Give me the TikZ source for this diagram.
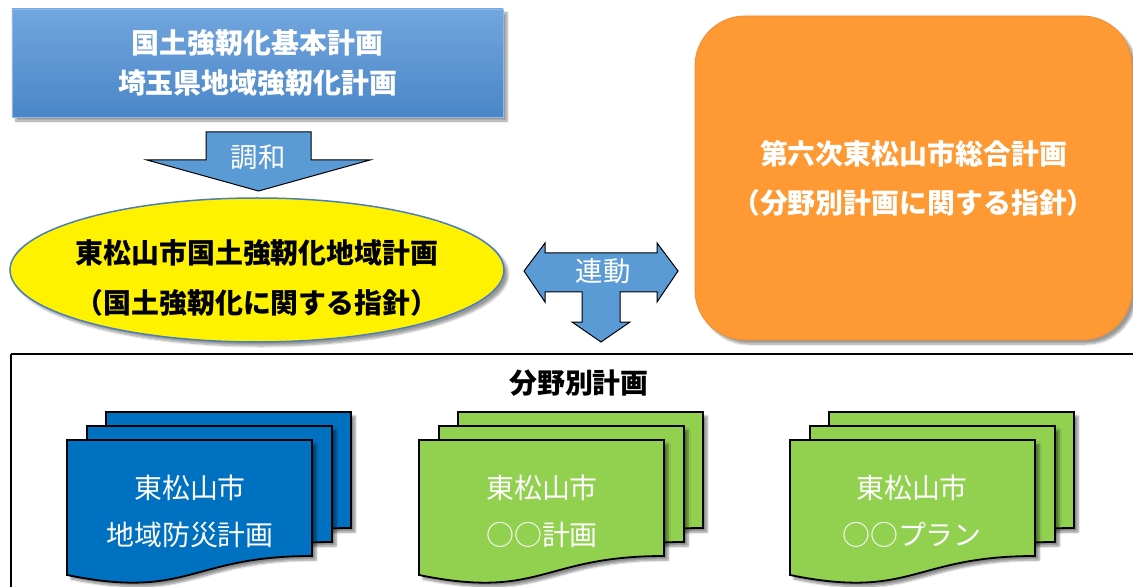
\documentclass[tikz,border=0pt]{standalone}
\usepackage{fontspec}
\setmainfont{Noto Sans CJK JP}
\usetikzlibrary{shadows,shadows.blur,shapes.geometric}
\definecolor{boxtop}{RGB}{114,166,222}
\definecolor{boxbot}{RGB}{74,134,200}
\definecolor{arrowblue}{RGB}{91,155,213}
\definecolor{ellborder}{RGB}{74,126,187}
\definecolor{orangefill}{RGB}{255,153,51}
\definecolor{orangeline}{RGB}{240,140,50}
\definecolor{docblue}{RGB}{0,112,192}
\definecolor{docgreen}{RGB}{146,208,80}
\newcommand\DocSheet[3]{%
  \begin{scope}[shift={(#1,#2)}]
    \path[draw=black, line width=1.8bp, fill=#3, blur shadow={shadow xshift=4bp, shadow yshift=-4bp, shadow blur steps=6, shadow opacity=45}]
      (0,0) -- (245,0) -- (245,116)
      .. controls (122.5,116) and (122.5,160) .. (0,135) -- cycle;
  \end{scope}}
\tikzset{
  big/.style={font=\fontsize{27.5}{40}\selectfont, align=center, inner sep=0},
  bigb/.style={font=\fontsize{28}{40}\selectfont\bfseries, align=center, inner sep=0},
  doctext/.style={font=\fontsize{28}{47}\selectfont, align=center, inner sep=0, text=white},
  softshadow/.style={blur shadow={shadow xshift=4bp, shadow yshift=-4bp, shadow blur steps=8, shadow opacity=40}},
  blockarrow/.style={draw=black, line width=1bp, fill=arrowblue},
}
\begin{document}
\begin{tikzpicture}[x=1bp,y=-1bp]
\useasboundingbox (0,0) rectangle (1133,587);

% top-left blue box
\node[rectangle, minimum width=491bp, minimum height=108bp, inner sep=0,
  top color=boxtop, bottom color=boxbot, draw=boxtop!80!white, line width=0.6bp, softshadow]
  (national) at (257.5,63) {};
\node[bigb, text=white, font=\fontsize{28}{40}\selectfont\bfseries] (nationaltext) at (257.5,63)
  {国土強靭化基本計画\\埼玉県地域強靭化計画};

% orange rounded box
\node[rectangle, rounded corners=50bp, minimum width=437bp, minimum height=324bp, inner sep=0,
  fill=orangefill, draw=orangeline, line width=0.8bp, softshadow]
  (general) at (913.5,178) {};
\node[bigb, text=white, font=\fontsize{28}{49}\selectfont\bfseries] (generaltext) at (913.5,178)
  {第六次東松山市総合計画\\（分野別計画に関する指針）};

% yellow ellipse
\node[ellipse, minimum width=494bp, minimum height=144bp, inner sep=0,
  fill=yellow, draw=ellborder, line width=1.5bp, softshadow]
  (local) at (257,270) {};
\node[bigb, text=black, font=\fontsize{28}{50}\selectfont\bfseries] (localtext) at (257,278)
  {東松山市国土強靭化地域計画\\（国土強靭化に関する指針）};

% harmony arrow
\path[blockarrow] (206,132) -- (311,132) -- (311,160) -- (370,160) -- (258.5,191)
  -- (147,160) -- (206,160) -- cycle;
\node[big, text=white] (harmony) at (258,157) {調和};

% linkage T-arrow
\path[blockarrow] (524,271) -- (545,243) -- (545,253) -- (657,253) -- (657,243)
  -- (678,271) -- (657,302) -- (657,292) -- (620,292) -- (620,322) -- (630,322)
  -- (601,342) -- (572,322) -- (582,322) -- (582,292) -- (545,292) -- (545,302) -- cycle;
\node[big, text=white] (linkage) at (603,271) {連動};

% sector frame
\draw[line width=2.2bp, black] (11,354) -- (1140,354);
\draw[line width=2.2bp, black] (11,354) -- (11,595);
\node[bigb, text=black] (sector) at (579,383) {分野別計画};

% document stacks
\DocSheet{106}{412}{docblue}
\DocSheet{87}{426}{docblue}
\DocSheet{67}{440}{docblue}
\node[doctext] (disaster) at (190,511) {東松山市\\地域防災計画};

\DocSheet{458}{412}{docgreen}
\DocSheet{439}{426}{docgreen}
\DocSheet{419}{440}{docgreen}
\node[doctext] (planA) at (542,511) {東松山市\\○○計画};

\DocSheet{829}{412}{docgreen}
\DocSheet{810}{426}{docgreen}
\DocSheet{790}{440}{docgreen}
\node[doctext] (planB) at (912,511) {東松山市\\○○プラン};
\end{tikzpicture}
\end{document}
